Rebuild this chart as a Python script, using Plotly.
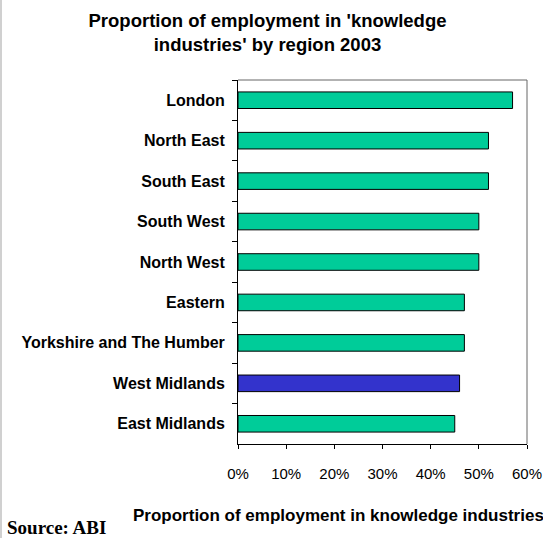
import plotly.graph_objects as go

regions = ["London", "North East", "South East", "South West", "North West",
           "Eastern", "Yorkshire and The Humber", "West Midlands", "East Midlands"]
values = [57, 52, 52, 50, 50, 47, 47, 46, 45]
highlight = "West Midlands"
x_ticks = [0, 10, 20, 30, 40, 50, 60]
x_tick_labels = [f"{v}%" for v in x_ticks]

GREEN = "#00CC99"
BLUE = "#3333CC"
colors = [BLUE if r == highlight else GREEN for r in regions]

W, H = 543, 538
L, R, T, B = 238, 16, 80, 94
pw, ph = W - L - R, H - T - B

def px_x(px):
    return (px - L) / pw

def px_y(py):
    return (H - B - py) / ph

FONT = "Liberation Sans, Arial, sans-serif"

fig = go.Figure(go.Bar(
    x=values, y=regions, orientation="h",
    marker=dict(color=colors, line=dict(color="black", width=1)),
    hoverinfo="skip",
))

fig.update_layout(
    width=W, height=H,
    margin=dict(l=L, r=R, t=T, b=B, pad=0, autoexpand=False),
    paper_bgcolor="white", plot_bgcolor="white",
    bargap=0.59,
    showlegend=False,
    title=dict(
        text="Proportion of employment in 'knowledge<br>industries' by region 2003",
        font=dict(family=FONT, size=18.5, color="black", weight="bold"),
        x=267.5 / W, xanchor="center", xref="container",
        y=1 - 26.5 / H, yanchor="middle", yref="container",
    ),
    font=dict(family=FONT, color="black"),
)

fig.update_xaxes(
    range=[0, 60], tickmode="array", tickvals=x_ticks, ticktext=x_tick_labels,
    showgrid=False, zeroline=False, automargin=False,
    showline=True, linecolor="black", linewidth=1,
    ticks="outside", ticklen=4, tickcolor="black",
    tickfont=dict(family=FONT, size=15, color="black"),
    ticklabelstandoff=12,
)
fig.update_yaxes(
    categoryorder="array", categoryarray=regions, autorange="reversed",
    showgrid=False, zeroline=False, automargin=False,
    showline=True, linecolor="black", linewidth=1,
    ticks="outside", ticklen=5, tickcolor="black", tickson="boundaries",
    tickfont=dict(family=FONT, size=16, color="black", weight="bold"),
    ticklabelstandoff=9,
)

# Plot-area frame (top and right) and outer left border
fig.add_shape(type="line", xref="paper", yref="paper", x0=0, x1=1, y0=1, y1=1,
              line=dict(color="#666666", width=1))
fig.add_shape(type="line", xref="paper", yref="paper", x0=1, x1=1, y0=0, y1=1,
              line=dict(color="#666666", width=1))
fig.add_shape(type="line", xref="paper", yref="paper", x0=px_x(1), x1=px_x(1),
              y0=px_y(H), y1=px_y(0), line=dict(color="#D0D0D0", width=2))

fig.add_annotation(
    text="Proportion of employment in knowledge industries",
    xref="paper", yref="paper", x=px_x(338), y=px_y(515),
    xanchor="center", yanchor="middle", showarrow=False,
    font=dict(family=FONT, size=17, color="black", weight="bold"),
)
fig.add_annotation(
    text="Source: ABI",
    xref="paper", yref="paper", x=px_x(5), y=px_y(527),
    xanchor="left", yanchor="middle", showarrow=False,
    font=dict(family="Liberation Serif, Times New Roman, serif", size=19,
              color="black", weight="bold"),
)

fig.write_html("out.html", config={"displayModeBar": False},
               post_script="document.body.style.margin='0';")
